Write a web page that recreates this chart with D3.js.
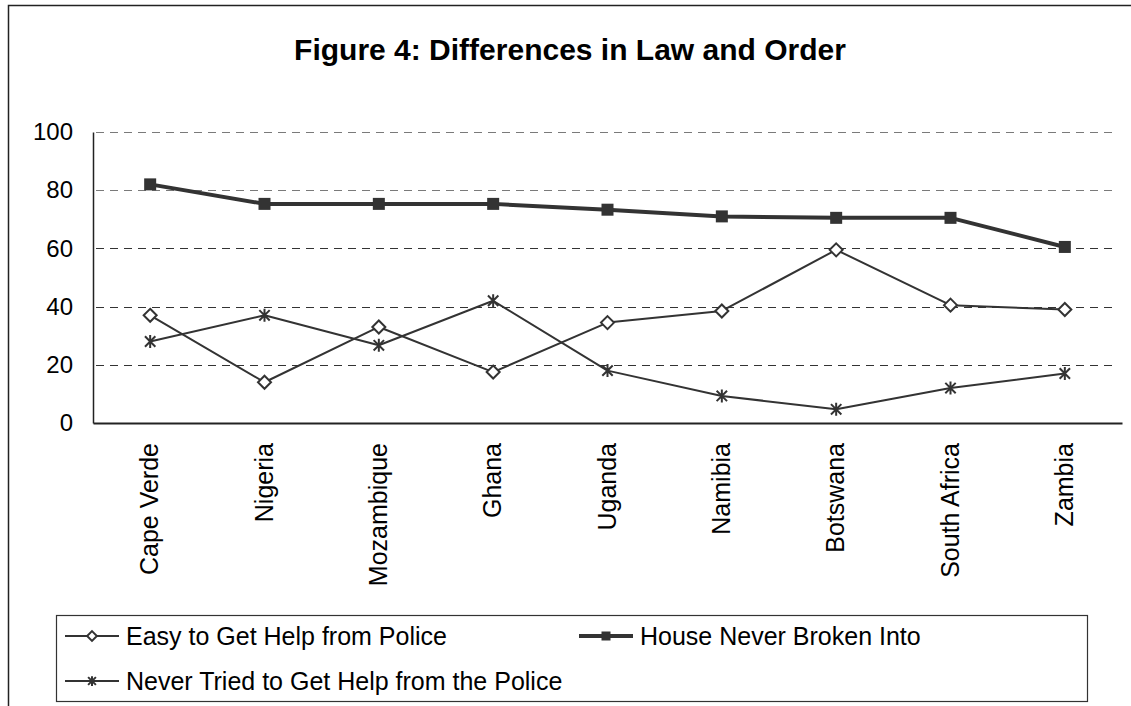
<!DOCTYPE html>
<html>
<head>
<meta charset="utf-8">
<script src="https://cdn.jsdelivr.net/npm/d3@7"></script>
<style>
  html, body { margin: 0; padding: 0; background: #fff; }
  svg { display: block; font-family: "Liberation Sans", Arial, sans-serif; }
</style>
</head>
<body>
<svg id="chart" width="1131" height="706"></svg>
<script>
// Countries along the x axis
const countries = ["Cape Verde", "Nigeria", "Mozambique", "Ghana", "Uganda",
                   "Namibia", "Botswana", "South Africa", "Zambia"];

// Percentages per country
const easyHelp      = [37, 14, 33, 17.5, 34.5, 38.5, 59.5, 40.5, 39];
const neverBroken   = [82, 75.3, 75.3, 75.3, 73.3, 71, 70.5, 70.5, 60.5];
const neverTried    = [28, 37, 26.7, 42, 18, 9.3, 4.7, 12, 17];

const yTicks = [0, 20, 40, 60, 80, 100];

const titleText = "Figure 4: Differences in Law and Order";
const seriesNames = ["Easy to Get Help from Police", "House Never Broken Into",
                     "Never Tried to Get Help from the Police"];

const ink = "#333333";
const svg = d3.select("#chart");

// Outer frame
svg.append("rect")
  .attr("x", 8.5).attr("y", 5.5)
  .attr("width", 1300).attr("height", 900)
  .attr("fill", "none").attr("stroke", "#222").attr("stroke-width", 1.5);

// Title
svg.append("text")
  .attr("x", 570).attr("y", 60)
  .attr("text-anchor", "middle")
  .attr("font-size", 30).attr("font-weight", "bold")
  .attr("fill", "#000")
  .text(titleText);

const plot = { left: 93, right: 1122, top: 132, bottom: 423 };

const x = d3.scaleBand().domain(countries).range([plot.left, plot.right]);
const y = d3.scaleLinear().domain([0, 100]).range([plot.bottom, plot.top]);
const cx = c => x(c) + x.bandwidth() / 2;

// Dashed horizontal gridlines
svg.append("g").selectAll("line")
  .data(yTicks.filter(t => t > 0))
  .join("line")
  .attr("x1", plot.left + 3).attr("x2", 1116)
  .attr("y1", d => Math.round(y(d)) + 0.5).attr("y2", d => Math.round(y(d)) + 0.5)
  .attr("stroke", d => d >= 80 ? "#7a7a7a" : "#333")
  .attr("stroke-width", 1)
  .attr("stroke-dasharray", "8,6");

// Y axis with labels
const yAxis = svg.append("g")
  .attr("transform", `translate(${plot.left},0)`)
  .call(d3.axisLeft(y).tickValues(yTicks).tickSize(0).tickPadding(20));
yAxis.select(".domain").attr("stroke", "#222").attr("stroke-width", 1.5);
yAxis.selectAll("text")
  .attr("font-size", 24).attr("fill", "#000")
  .attr("font-family", "'Liberation Sans', Arial, sans-serif");

// X axis with rotated country names
const xAxis = svg.append("g")
  .attr("transform", `translate(0,${plot.bottom})`)
  .call(d3.axisBottom(x).tickSize(0).tickPadding(0));
xAxis.select(".domain").attr("stroke", "#222").attr("stroke-width", 2);
xAxis.selectAll("text")
  .attr("font-size", 25).attr("fill", "#000")
  .attr("font-family", "'Liberation Sans', Arial, sans-serif")
  .attr("text-anchor", "end")
  .attr("dy", null)
  .attr("y", null)
  .attr("transform", "translate(8,20) rotate(-90)");

// Marker shapes
function diamond(g, px, py, s) {
  g.append("path")
    .attr("d", `M${px},${py - s}L${px + s},${py}L${px},${py + s}L${px - s},${py}Z`)
    .attr("fill", "#fff").attr("stroke", ink).attr("stroke-width", 2);
}
function square(g, px, py, s) {
  g.append("rect")
    .attr("x", px - s).attr("y", py - s).attr("width", 2 * s).attr("height", 2 * s)
    .attr("fill", ink);
}
function star(g, px, py, s) {
  const d = s * 0.8;
  g.append("path")
    .attr("d", `M${px},${py - s}L${px},${py + s}M${px - d},${py - d}L${px + d},${py + d}M${px - d},${py + d}L${px + d},${py - d}`)
    .attr("stroke", ink).attr("stroke-width", 2).attr("fill", "none");
}

const series = [
  { name: seriesNames[0], values: easyHelp,    width: 2,   marker: diamond, size: 6.5 },
  { name: seriesNames[1], values: neverBroken, width: 4,   marker: square,  size: 6 },
  { name: seriesNames[2], values: neverTried,  width: 2,   marker: star,    size: 6.5 }
];

const line = d3.line().x((d, i) => cx(countries[i])).y(d => y(d));

series.forEach(s => {
  svg.append("path")
    .datum(s.values)
    .attr("d", line)
    .attr("fill", "none").attr("stroke", ink)
    .attr("stroke-width", s.width).attr("stroke-linejoin", "round");
  const g = svg.append("g");
  s.values.forEach((v, i) => s.marker(g, cx(countries[i]), y(v), s.size));
});

// Legend
svg.append("rect")
  .attr("x", 56.5).attr("y", 615.5).attr("width", 1031).attr("height", 86)
  .attr("fill", "#fff").attr("stroke", "#333").attr("stroke-width", 1.2);

const legendItems = [
  { s: series[0], x: 65,  y: 636 },
  { s: series[1], x: 579, y: 636 },
  { s: series[2], x: 65,  y: 681 }
];
legendItems.forEach(it => {
  const g = svg.append("g");
  g.append("line")
    .attr("x1", it.x).attr("x2", it.x + 54)
    .attr("y1", it.y).attr("y2", it.y)
    .attr("stroke", ink).attr("stroke-width", it.s.width);
  it.s.marker(g, it.x + 27, it.y, it.s.size * 0.75);
  g.append("text")
    .attr("x", it.x + 61).attr("y", it.y + 9)
    .attr("font-size", 25).attr("fill", "#000")
    .text(it.s.name);
});
</script>
</body>
</html>
